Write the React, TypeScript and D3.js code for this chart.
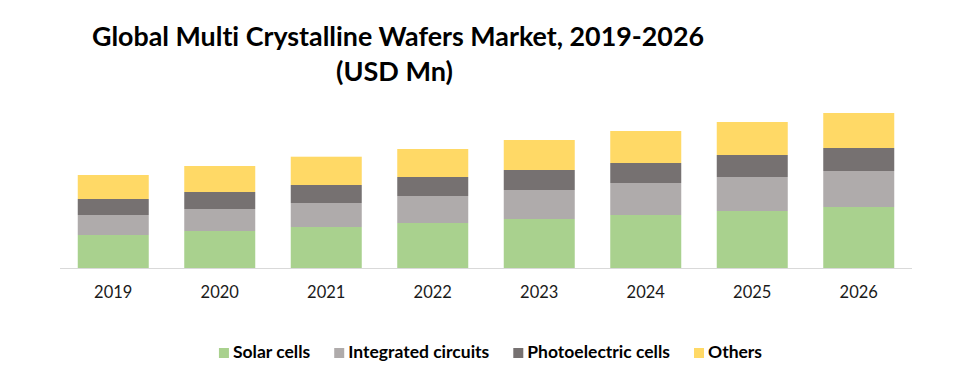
import React, { useEffect, useRef } from "react";
import * as d3 from "d3";

const years = ["2019", "2020", "2021", "2022", "2023", "2024", "2025", "2026"];
const seriesNames = ["Solar cells", "Integrated circuits", "Photoelectric cells", "Others"];
const solarCells = [33, 37, 41, 45, 49, 53, 57, 61];
const integratedCircuits = [20, 22, 24, 27, 29, 32, 34, 36];
const photoelectricCells = [16, 17, 18, 19, 20, 20, 22, 23];
const others = [24, 26, 28.3, 28, 30, 32, 33, 35];
const colors = ["#a9d18e", "#afabab", "#767171", "#ffd966"];
const titleLines = ["Global Multi Crystalline Wafers Market, 2019-2026", "(USD Mn)"];

const W = 975;
const H = 383;
const FONT = "Lato, 'Open Sans', sans-serif";

export default function App() {
  const ref = useRef<SVGSVGElement>(null);

  useEffect(() => {
    const svg = d3.select(ref.current);
    svg.selectAll("*").remove();
    svg.style("font-variant-ligatures", "none");

    const x = d3.scaleBand<string>().domain(years).range([60, 912]).paddingInner(1 / 3).paddingOuter(1 / 6);
    const y = d3.scaleLinear().domain([0, 200]).range([268, 68]);

    const table = years.map((yr, i) => ({
      year: yr,
      "Solar cells": solarCells[i],
      "Integrated circuits": integratedCircuits[i],
      "Photoelectric cells": photoelectricCells[i],
      Others: others[i],
    }));
    const stack = d3.stack<any>().keys(seriesNames)(table);

    svg.append("rect").attr("width", W).attr("height", H).attr("fill", "#fff");

    // title
    const tl = svg.append("g").attr("font-family", FONT).attr("font-weight", 700).attr("fill", "#000");
    tl.append("text").attr("x", 398).attr("y", 46).attr("text-anchor", "middle").attr("font-size", 26)
      .attr("textLength", 612).attr("lengthAdjust", "spacingAndGlyphs").text(titleLines[0]);
    tl.append("text").attr("x", 394.5).attr("y", 81).attr("text-anchor", "middle").attr("font-size", 26)
      .attr("textLength", 117).attr("lengthAdjust", "spacingAndGlyphs").text(titleLines[1]);

    // bars
    stack.forEach((s, si) => {
      svg.append("g").attr("fill", colors[si]).selectAll("rect").data(s).join("rect")
        .attr("x", (d: any) => x(d.data.year)!)
        .attr("width", x.bandwidth())
        .attr("y", (d: any) => y(d[1]))
        .attr("height", (d: any) => y(d[0]) - y(d[1]));
    });

    // axis line
    svg.append("line").attr("x1", 60).attr("x2", 912).attr("y1", 268.5).attr("y2", 268.5)
      .attr("stroke", "#d9d9d9").attr("stroke-width", 1);

    // tick labels
    svg.append("g").attr("font-family", FONT).attr("font-size", 16.5).attr("fill", "#1a1a1a")
      .selectAll("text").data(years).join("text")
      .attr("x", (d) => x(d)! + x.bandwidth() / 2).attr("y", 298).attr("text-anchor", "middle")
      .text((d) => d);

    // legend
    const lg = svg.append("g").attr("font-family", FONT).attr("font-weight", 700).attr("font-size", 17.5);
    const items = lg.selectAll("g").data(seriesNames).join("g");
    items.append("rect").attr("width", 10).attr("height", 10).attr("y", 348).attr("fill", (_d, i) => colors[i]);
    items.append("text").attr("x", 14).attr("y", 358).attr("fill", "#000").text((d) => d);
    const widths: number[] = [];
    items.each(function () {
      const t = d3.select(this).select("text").node() as SVGTextElement;
      widths.push(14 + t.getComputedTextLength());
    });
    const gap = 24;
    const total = d3.sum(widths) + gap * (widths.length - 1);
    let cx = 490.5 - total / 2;
    items.attr("transform", (_d, i) => {
      const tx = cx;
      cx += widths[i] + gap;
      return `translate(${tx},0)`;
    });
  }, []);

  return (
    <svg ref={ref} width={W} height={H} style={{ position: "absolute", left: 0, top: 0, display: "block" }} />
  );
}
